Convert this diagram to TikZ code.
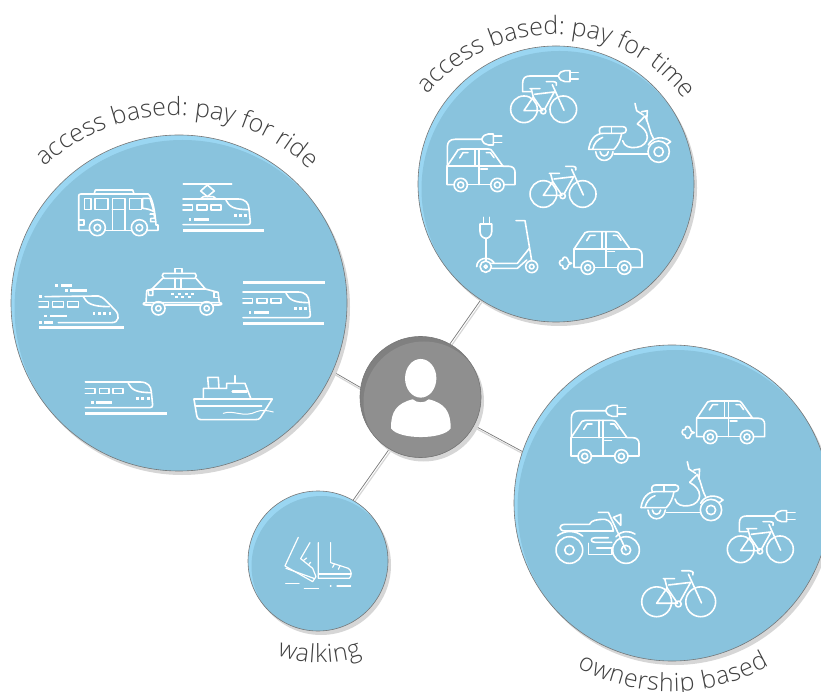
\documentclass[tikz,border=0pt]{standalone}
\usepackage{fontspec}
\setmainfont{Open Sans}[UprightFont=* Light]
\usetikzlibrary{shadows,backgrounds,decorations.text}
\definecolor{skymain}{HTML}{89C3DD}
\definecolor{skyhigh}{HTML}{9AD6F2}
\definecolor{usermain}{HTML}{8F8F8F}
\definecolor{userhigh}{HTML}{808080}
\definecolor{rimgray}{HTML}{777777}
\definecolor{shadegray}{HTML}{D6D6D6}
\definecolor{labelgray}{HTML}{404040}
\newcommand{\labelfont}{\fontsize{25}{30}\selectfont\color{labelgray}}
\tikzset{
  blob/.style n args={3}{circle, inner sep=0pt, minimum size=#1, draw=rimgray, line width=.6pt, fill=#3,
    drop shadow={shadow xshift=3pt, shadow yshift=-4pt, fill=shadegray, opacity=1},
    path picture={\fill[#2] ([xshift=3.5pt,yshift=-5pt]path picture bounding box.center) circle (#1/2);}},
  link/.style={draw=rimgray, line width=.7pt, preaction={draw=shadegray, line width=1.2pt, transform canvas={shift={(1pt,-2.5pt)}}}},
  curvelabel/.style={decorate, decoration={text along path, text={|\labelfont|#1}, text align={fit to path}}},
  icon/.style={white, line width=1.6pt, line join=round, line cap=round, x=.3333pt, y=-.3333pt},
  bar/.style={line width=2.7pt, line cap=butt},
  pics/plug/.style={code={
    \draw (0,0) .. controls (4,-10) and (10,-16) .. (20,-16) -- (35,-16) -- (35,17) -- (20,17) .. controls (10,17) and (4,10) .. (0,0);
    \draw (35,-10) -- (60,-10) (35,10) -- (60,10);
  }},
  pics/bike/.style={code={\begin{scope}[icon,shift={(-398,-420)}]
    \draw (340,432) circle (40) (458,432) circle (40) (398,438) circle (8);
    \draw (340,436) -- (368,395) -- (396,436) -- cycle;
    \draw (362,372) -- (368,395) (358,370) -- (388,370);
    \draw (372,387) -- (431,380) -- (402,432);
    \draw (425,358) -- (460,435);
    \draw (407,349) -- (428,349) .. controls (438,350) and (440,355) .. (437,360);
  \end{scope}}},
  pics/evbike/.style={code={
    \pic {bike};
    \begin{scope}[icon,shift={(-398,-420)},shift={(58,254)}]
    \draw (302,125) -- (278,125) -- (278,100) .. controls (278,85) and (285,78) .. (300,78) -- (385,78);
    \pic at (385,78) {plug};
    \end{scope}
  }},
  pics/car/.style={code={\begin{scope}[icon,shift={(-527,-600)}]
    \draw (453,652) -- (432,652) -- (432,597) -- (465,548) .. controls (468,545) and (470,545) .. (475,545) -- (555,545) .. controls (562,545) and (565,547) .. (568,552) -- (600,597) -- (618,597) .. controls (630,597) and (636,605) .. (636,615) -- (636,652) -- (603,652);
    \draw (493,652) -- (563,652);
    \draw (432,597) -- (600,597);
    \draw (527,545) -- (527,652) (515,545) -- (515,597);
    \draw (533,605) -- (553,605);
    \draw (470,572) -- (480,556) -- (495,556) (550,556) -- (562,556) -- (573,571);
    \draw (473,653) circle (20) (473,653) circle (9) (583,653) circle (20) (583,653) circle (9);
  \end{scope}}},
  pics/gascar/.style={code={
    \pic {car};
    \begin{scope}[icon,shift={(-527,-600)}]
    \draw (425,640) .. controls (416,640) and (414,634) .. (413,628) .. controls (410,618) and (396,620) .. (398,630) .. controls (385,628) and (385,648) .. (398,648) .. controls (396,660) and (412,660) .. (413,650) .. controls (414,645) and (416,640) .. (425,640);
    \end{scope}
  }},
  pics/evcar/.style={code={
    \pic {car};
    \begin{scope}[icon,shift={(-146,-352)}]
    \draw (52,348) -- (52,290) .. controls (52,276) and (60,268) .. (75,268) -- (155,268);
    \pic at (155,268) {plug};
    \end{scope}
  }},
  pics/scooter/.style={code={\begin{scope}[icon,shift={(-600,-260)}]
    \draw (476,298) .. controls (480,270) and (495,250) .. (520,250) -- (578,250);
    \draw (510,250) .. controls (505,238) and (510,230) .. (520,230) -- (580,230) .. controls (592,230) and (592,250) .. (578,250);
    \draw (545,230) -- (545,250);
    \draw (476,298) -- (552,298) .. controls (565,285) and (572,268) .. (575,250);
    \draw (488,298) .. controls (492,280) and (502,268) .. (518,262);
    \draw (578,272) .. controls (582,290) and (600,295) .. (620,292) .. controls (640,290) and (652,275) .. (652,262) .. controls (652,245) and (640,232) .. (622,222);
    \draw (622,222) -- (645,198) .. controls (658,225) and (660,250) .. (670,265);
    \draw (615,160) -- (620,182) -- (640,195) (635,185) -- (652,182) -- (650,212);
    \draw (655,285) .. controls (665,262) and (700,255) .. (722,275) -- (712,282);
    \draw (686,305) circle (32) (686,305) circle (14);
    \draw (552,312) -- (655,312);
    \draw (497,305) .. controls (500,340) and (545,340) .. (549,305) (510,305) .. controls (512,322) and (533,322) .. (535,305);
  \end{scope}}},
  pics/moto/.style={code={\begin{scope}[icon,shift={(-200,-470)}]
    \draw (118,510) circle (40) (118,510) circle (14) (288,510) circle (40) (288,510) circle (14);
    \draw (105,433) -- (178,433) .. controls (185,420) and (200,418) .. (225,418) .. controls (240,420) and (248,435) .. (250,453) -- (105,453) .. controls (85,453) and (85,433) .. (105,433);
    \draw (82,467) .. controls (105,450) and (135,450) .. (158,468);
    \draw (205,397) -- (235,397) -- (288,510);
    \draw (250,412) -- (272,403) -- (272,436) -- cycle;
    \draw (258,470) .. controls (275,450) and (300,452) .. (315,462);
    \draw (195,473) -- (235,473) (195,487) -- (245,487) (195,473) .. controls (180,473) and (180,487) .. (195,487);
    \draw (175,490) -- (175,523) -- (245,523) -- (245,503) -- (200,503);
  \end{scope}}},
  pics/kick/.style={code={\begin{scope}[icon,shift={(-230,-600)}]
    \draw (167,650) circle (17) (167,650) circle (5) (305,650) circle (18) (305,650) circle (7);
    \draw (140,650) .. controls (140,625) and (175,615) .. (192,638);
    \draw (185,640) -- (262,640) -- (298,595) (185,655) -- (262,655) -- (290,630);
    \draw (258,512) -- (285,512) -- (305,632);
    \draw (168,565) -- (168,632);
    \draw (150,522) -- (185,522) -- (185,545) .. controls (185,558) and (175,565) .. (168,565) .. controls (160,565) and (150,558) .. (150,545) -- cycle;
    \draw (160,522) -- (160,502) (178,522) -- (178,502);
  \end{scope}}},
  pics/train/.style={code={\begin{scope}[icon,shift={(-196,-730)}]
    \draw[bar] (196,730) -- (440,730);
    \draw (196,636) -- (360,636) .. controls (385,636) and (393,650) .. (394,665) -- (398,705) .. controls (398,710) and (396,713) .. (390,713) -- (196,713);
    \draw (325,640) .. controls (335,660) and (350,668) .. (394,668);
    \draw (196,655) -- (225,655) -- (225,670) -- (196,670);
    \draw (238,655) rectangle (268,670) (280,655) rectangle (310,670);
    \foreach \dotx in {348,364,380} \fill (\dotx,681) rectangle +(9,8);
    \fill (213,693) rectangle +(8,8);
    \fill (228,693) rectangle +(47,8);
  \end{scope}}},
  pics/rail/.style={code={
    \pic {train};
    \begin{scope}[icon,shift={(-196,-730)}]
    \draw[bar] (196,608) -- (442,608);
    \end{scope}
  }},
  pics/tram/.style={code={
    \pic {train};
    \begin{scope}[icon,shift={(-196,-730)}]
    \draw (197,591) -- (342,591);
    \draw (269,594) -- (290,612) -- (269,629) -- (249,612) -- cycle;
    \draw (247,637) -- (257,629) -- (287,629) -- (297,637);
    \end{scope}
  }},
  pics/express/.style={code={\begin{scope}[icon,shift={(-57,-472)}]
    \draw[bar] (57,472) -- (312,472);
    \draw (75,380) -- (235,378) .. controls (250,380) and (265,400) .. (285,420) .. controls (300,435) and (298,458) .. (275,458) -- (115,458);
    \draw (190,380) .. controls (200,400) and (215,410) .. (268,410);
    \draw (57,395) -- (85,395) -- (85,412) -- (57,412);
    \draw (97,395) rectangle (130,412) (142,395) rectangle (175,412);
    \foreach \dotx in {218,234,250,266} \fill (\dotx,427) rectangle +(8,7);
    \fill (105,342) rectangle +(9,8);
    \fill (123,342) rectangle +(33,8);
    \fill (136,357) rectangle +(9,8);
    \fill (150,357) rectangle +(50,8);
    \fill (58,375) rectangle +(8,8);
    \fill (72,434) rectangle +(8,8);
    \fill (90,434) rectangle +(50,8);
    \fill (58,453) rectangle +(8,8);
    \fill (72,453) rectangle +(28,8);
  \end{scope}}},
  pics/bus/.style={code={\begin{scope}[icon,shift={(-290,-125)}]
    \draw (208,181) -- (176,181) -- (176,78) .. controls (176,74) and (178,72) .. (182,72) -- (385,72) .. controls (398,85) and (405,125) .. (408,165) -- (414,165) -- (414,181) -- (382,181);
    \draw (256,181) -- (334,181);
    \draw (222,72) -- (226,60) -- (338,60) -- (342,72);
    \draw (193,85) rectangle (213,118) (225,85) rectangle (263,118) (277,85) rectangle (315,181) (277,118) -- (315,118);
    \draw (328,85) rectangle (365,118);
    \draw (368,85) -- (390,85) -- (402,125) .. controls (390,118) and (380,116) .. (368,115) -- cycle;
    \draw (176,150) -- (192,150) -- (192,165) -- (176,165);
    \draw (390,132) -- (402,132) -- (404,145) -- (392,145) -- (392,155) -- (404,155);
    \draw (232,173) circle (24) (232,173) circle (10) (358,173) circle (24) (358,173) circle (10);
  \end{scope}}},
  pics/taxi/.style={code={\begin{scope}[icon,shift={(-488,-360)}]
    \draw (465,307) -- (465,296) -- (486,296) -- (486,307);
    \draw (430,310) -- (525,310) .. controls (530,312) and (530,322) .. (525,325) -- (432,325) .. controls (425,322) and (425,312) .. (430,310);
    \draw (428,325) -- (396,357) -- (380,362) -- (378,398);
    \draw (528,325) -- (556,357) -- (594,367) -- (598,398);
    \draw (396,357) -- (556,357);
    \draw (465,325) -- (465,355) (482,325) -- (482,355);
    \draw (384,360) -- (398,360) -- (398,376) -- (386,376) -- cycle;
    \draw (582,368) -- (596,368) -- (596,382) -- (582,382) -- cycle;
    \draw (394,405) -- (377,405) .. controls (367,405) and (367,398) .. (377,398) -- (597,398) .. controls (608,398) and (608,405) .. (597,405) -- (580,405);
    \draw (436,405) -- (540,405);
    \draw (415,415) circle (20) (415,415) circle (8) (560,415) circle (20) (560,415) circle (8);
    \foreach \dotx in {454,474,494,514} \fill (\dotx,369) rectangle +(9,7);
    \foreach \dotx in {464,484,504} \fill (\dotx,378) rectangle +(9,7);
  \end{scope}}},
  pics/ship/.style={code={\begin{scope}[icon,shift={(-640,-687)}]
    \draw (522,687) -- (757,687) -- (722,742) .. controls (718,748) and (715,749) .. (705,749) -- (545,749) .. controls (535,749) and (532,745) .. (530,735) -- cycle;
    \draw (550,687) -- (550,655) -- (620,655) -- (620,640) -- (675,640) -- (693,687);
    \draw (563,622) -- (595,622) -- (597,655) (563,622) -- (566,655);
    \draw (645,617) -- (645,640);
    \draw (528,708) -- (725,708);
    \draw[line width=2.4pt] (638,665) -- (680,665);
    \draw[line width=1pt] (610,730) .. controls (640,718) and (670,745) .. (710,725) .. controls (725,718) and (745,722) .. (760,726);
  \end{scope}}},
  pics/shoes/.style={code={\begin{scope}[icon,line width=1.2pt,shift={(-235,-730)}]
    \draw (175,652) -- (146,714) -- (135,738) -- (218,785) -- (228,770) -- (218,745) -- (182,716) -- (210,668);
    \draw (138,745) -- (224,776);
    \draw (190,722) -- (200,714) (205,735) -- (212,727);
    \draw (235,668) -- (235,775) -- (328,775) .. controls (336,770) and (336,750) .. (325,745) -- (272,728) -- (272,668);
    \draw (235,762) -- (333,762);
    \draw (283,733) -- (278,742) (300,738) -- (295,748);
    \draw (137,790) -- (177,790) (193,805) -- (236,805) (271,798) -- (273,798) (291,798) -- (332,798);
  \end{scope}}},
  pics/user/.style={code={\begin{scope}[icon,shift={(-542,-250)}]
    \fill (542,175) ellipse (47 and 58);
    \fill (453,325) .. controls (452,275) and (470,250) .. (518,238) .. controls (530,250) and (555,250) .. (566,238) .. controls (615,250) and (632,275) .. (632,325) .. controls (610,360) and (475,360) .. (453,325) -- cycle;
  \end{scope}}},
}
\begin{document}
\begin{tikzpicture}[x=1pt,y=1pt]
\useasboundingbox (0,0) rectangle (821,691);
\clip (0,0) rectangle (821,691);
% the five discs
\node[blob={336pt}{skymain}{skyhigh}] (ride) at (179,388) {};
\node[blob={276pt}{skymain}{skyhigh}] (time) at (556,507) {};
\node[blob={316pt}{skymain}{skyhigh}] (owned) at (672,188) {};
\node[blob={140pt}{skymain}{skyhigh}] (walk) at (318,130) {};
\node[blob={121pt}{usermain}{userhigh}] (person) at (420.5,294) {};
\begin{scope}[on background layer]
\draw[link] (person.171) -- (ride.-24.4);
\draw[link] (person.61.4) -- (time.237.6);
\draw[link] (person.-28.8) -- (owned.161.2);
\draw[link] (person.239.7) -- (walk.60.2);
\end{scope}
% labels
\path[curvelabel={access based: pay for ride}] (45,524) arc[start angle=133, end angle=46, radius=192];
\path[curvelabel={access based: pay for time}] (428,596) arc[start angle=141, end angle=38, radius=162.7];
\path[curvelabel={ownership based}] (577,24) arc[start angle=241, end angle=300, radius=195];
\path[curvelabel={walking}] (277,36) arc[start angle=249.5, end angle=289.6, radius=124];
% pay for ride
\pic at (116.7,479.3) {bus};
\pic at (183,460.7) {tram};
\pic at (39,363.7) {express};
\pic at (182.7,401) {taxi};
\pic at (243,367.7) {rail};
\pic at (85.3,277.7) {train};
\pic at (233.3,292) {ship};
% pay for time
\pic at (543.3,585.7) {evbike};
\pic at (630,554.3) {scooter};
\pic at (478.7,523.7) {evcar};
\pic at (562.7,501) {bike};
\pic at (506.7,441) {kick};
\pic at (605.7,441) {gascar};
% ownership
\pic at (602.7,252.3) {evcar};
\pic at (728.3,271.7) {gascar};
\pic at (682.3,196) {scooter};
\pic at (596.7,154.3) {moto};
\pic at (760,145.7) {evbike};
\pic[scale=1.12] at (678.3,93.7) {bike};
% walking and the person
\pic at (318.3,127.7) {shoes};
\pic at (420.7,287.7) {user};
\end{tikzpicture}
\end{document}
